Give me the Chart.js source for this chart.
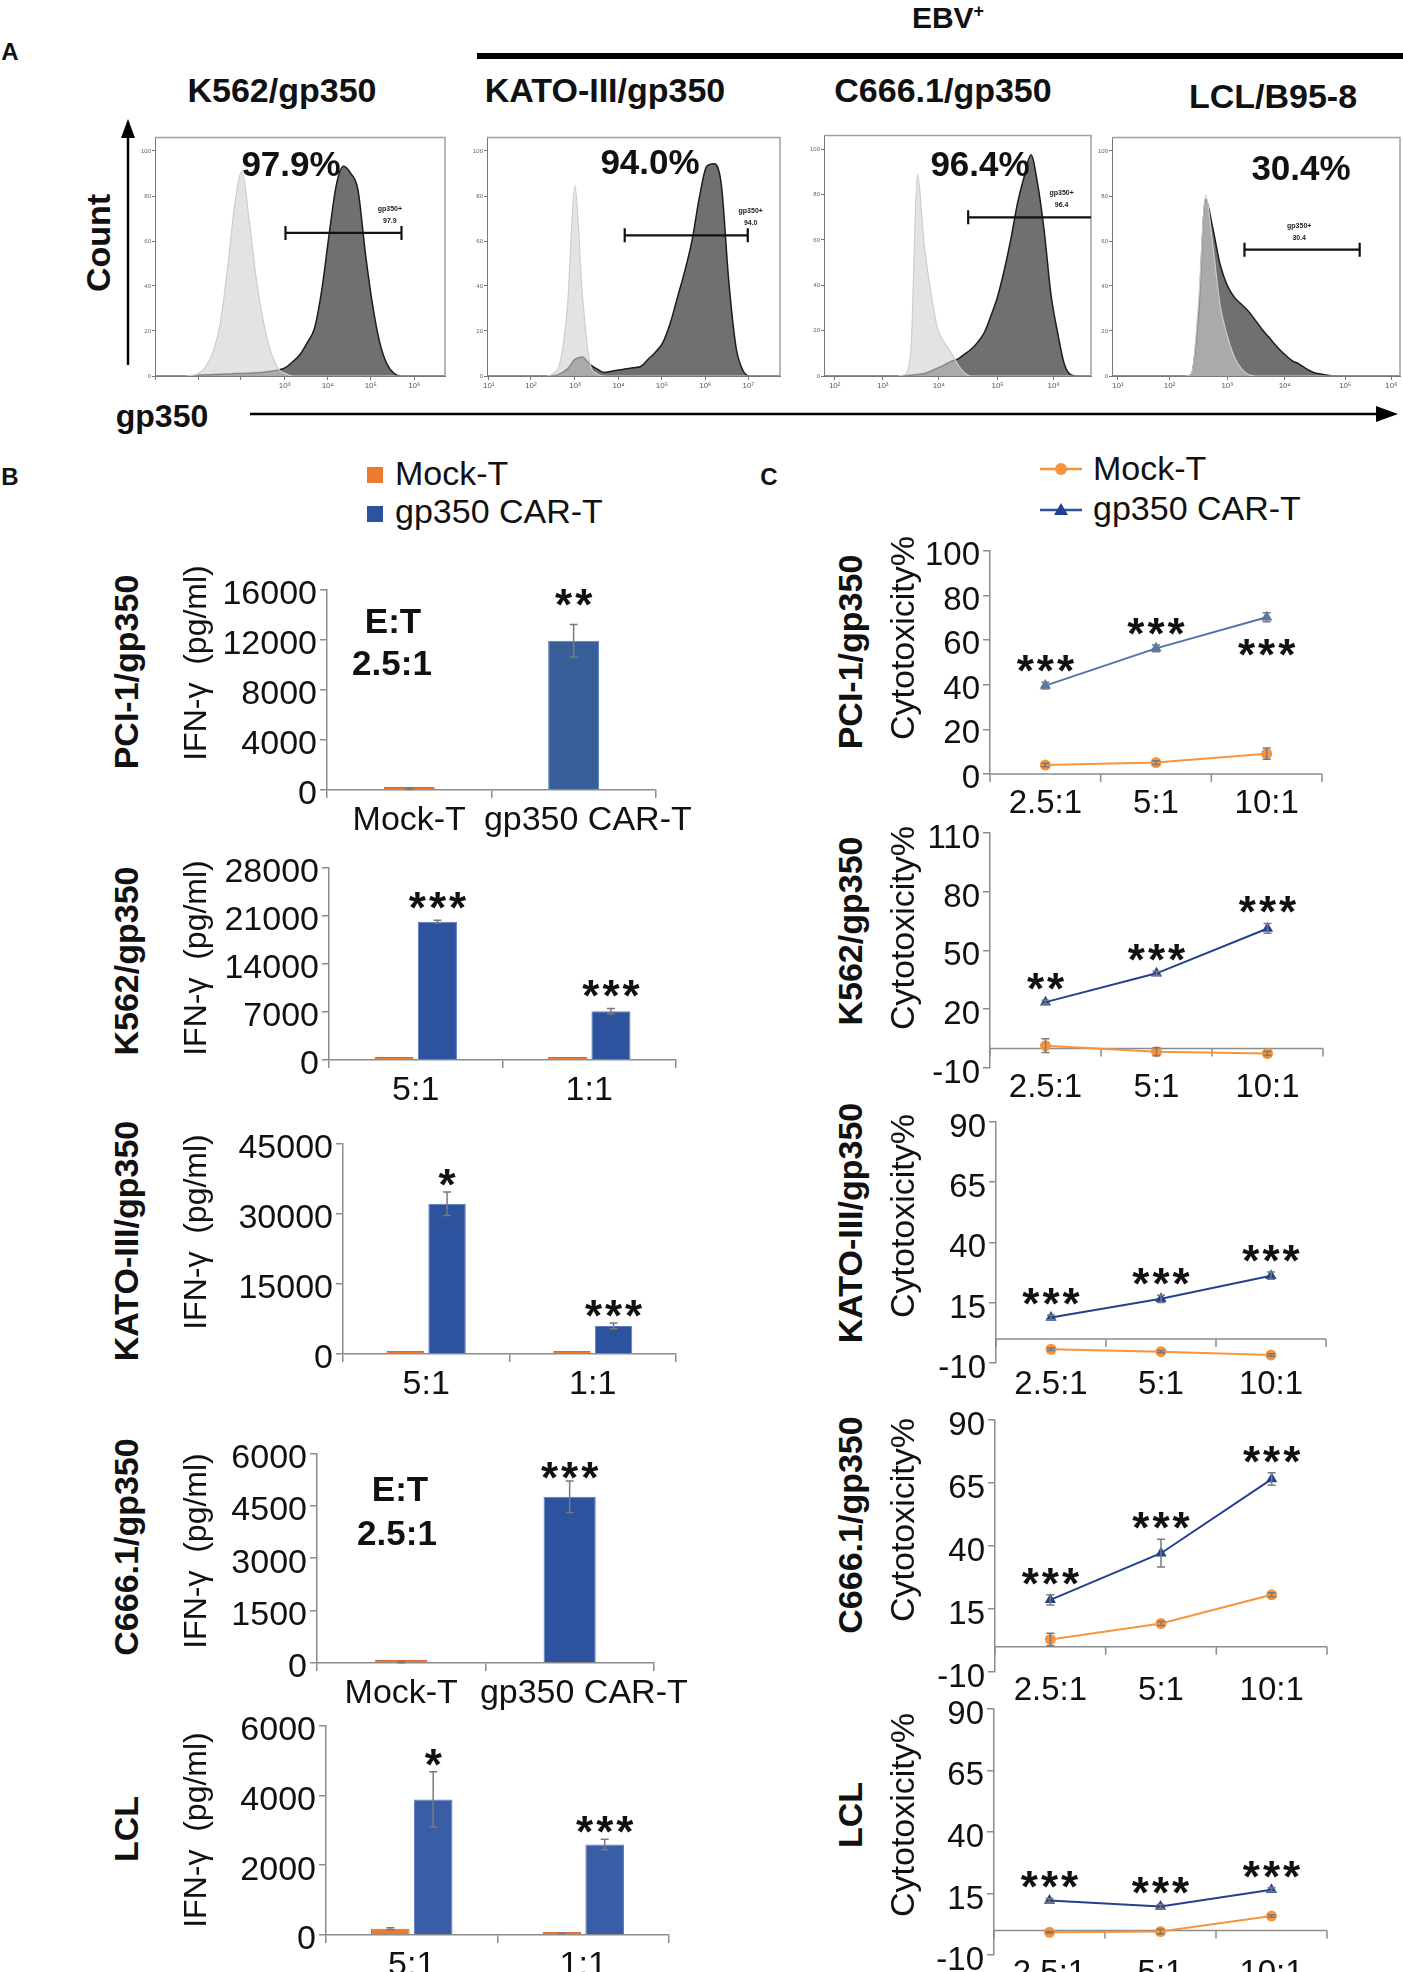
<!DOCTYPE html>
<html>
<head>
<meta charset="utf-8">
<script src="https://cdn.jsdelivr.net/npm/chart.js@4.4.1/dist/chart.umd.min.js"></script>
<style>
  body { margin: 0; background: #fff; width: 1403px; height: 1972px; position: relative; overflow: hidden;
         font-family: "Liberation Sans", Arial, sans-serif; color: #111; }
  canvas { position: absolute; }
  .lbl { position: absolute; white-space: nowrap; line-height: 1; }
  svg { position: absolute; left: 0; top: 0; }
</style>
</head>
<body>
<svg width="1403" height="1972">
  <!-- EBV bar -->
  <rect x="477" y="53" width="926" height="6" fill="#000"/>
  <!-- Count arrow -->
  <line x1="128" y1="365" x2="128" y2="134" stroke="#000" stroke-width="2.5"/>
  <polygon points="128,119 121,138 135,138" fill="#000"/>
  <!-- gp350 arrow -->
  <line x1="250" y1="414" x2="1380" y2="414" stroke="#000" stroke-width="2.5"/>
  <polygon points="1398,414 1376,406 1376,422" fill="#000"/>
  <!-- legend B -->
  <rect x="367" y="467" width="16" height="16" fill="#ee7a30"/>
  <rect x="367" y="506" width="16" height="16" fill="#2d529e"/>
  <!-- legend C -->
  <line x1="1040" y1="469" x2="1082" y2="469" stroke="#f7943c" stroke-width="2.5"/>
  <circle cx="1061" cy="469" r="6" fill="#f7943c"/>
  <line x1="1040" y1="510" x2="1082" y2="510" stroke="#2f4f9f" stroke-width="2.5"/>
  <polygon points="1061,503 1054,515 1068,515" fill="#22428f"/>
</svg>
<script>
// ---------- data ----------
// Panel A: flow histograms, x = 0..100 across each plot, y = share of plot height
const histX = [0,2.5,5,7.5,10,12.5,15,17.5,20,22.5,25,27.5,30,32.5,35,37.5,40,42.5,45,47.5,50,52.5,55,57.5,60,62.5,65,67.5,70,72.5,75,77.5,80,82.5,85,87.5,90,92.5,95,97.5,100];
const k562Ctrl = [0,0,0,0,0,0.003,0.01,0.04,0.1,0.22,0.45,0.72,0.86,0.65,0.4,0.22,0.1,0.03,0.01,0,0,0,0,0,0,0,0,0,0,0,0,0,0,0,0,0,0,0,0,0,0];
const k562Gp = [0,0,0,0,0,0,0.003,0.005,0.006,0.007,0.008,0.01,0.01,0.012,0.014,0.016,0.02,0.025,0.035,0.06,0.09,0.14,0.2,0.36,0.59,0.8,0.88,0.85,0.78,0.52,0.3,0.14,0.05,0.01,0,0,0,0,0,0,0];
const katoCtrl = [0,0,0,0,0,0,0,0,0,0.01,0.06,0.3,0.8,0.35,0.06,0.01,0,0,0,0,0,0,0,0,0,0,0,0,0,0,0,0,0,0,0,0,0,0,0,0,0];
const katoGp = [0,0,0,0,0,0,0,0,0,0,0.01,0.03,0.07,0.08,0.05,0.03,0.015,0.02,0.025,0.03,0.035,0.04,0.07,0.1,0.14,0.22,0.33,0.44,0.57,0.75,0.88,0.89,0.8,0.4,0.12,0.02,0,0,0,0,0];
const c666Ctrl = [0,0,0,0,0,0,0,0,0,0,0,0,0.005,0.1,0.84,0.55,0.35,0.2,0.14,0.1,0.05,0.015,0,0,0,0,0,0,0,0,0,0,0,0,0,0,0,0,0,0,0];
const c666Gp = [0,0,0,0,0,0,0,0,0,0,0,0,0,0.003,0.006,0.01,0.02,0.033,0.045,0.06,0.07,0.09,0.11,0.14,0.18,0.25,0.33,0.44,0.57,0.72,0.83,0.92,0.8,0.6,0.34,0.18,0.05,0.005,0,0,0];
const lclCtrl = [0,0,0,0,0,0,0,0,0,0,0,0.005,0.3,0.76,0.55,0.3,0.17,0.08,0.03,0.005,0,0,0,0,0,0,0,0,0,0,0,0,0,0,0,0,0,0,0,0,0];
const lclGp = [0,0,0,0,0,0,0,0,0,0,0,0.005,0.25,0.74,0.62,0.47,0.38,0.33,0.3,0.27,0.23,0.19,0.155,0.12,0.09,0.065,0.05,0.03,0.015,0.008,0.003,0,0,0,0,0,0,0,0,0,0];
const histPct = ["97.9%", "94.0%", "96.4%", "30.4%"];
const gateFrom = [45, 47, 54, 46];
const gateTo = [85, 89, 100, 86];
const gateY = [0.6, 0.59, 0.66, 0.53];
const gateVal = ["97.9", "94.0", "96.4", "30.4"];
const histYTicks = [0, 0.189, 0.378, 0.566, 0.755, 0.944];
const histYLabels = ["0", "20", "40", "60", "80", "100"];
const histXTicks = [
  [0.3, 15, 29.6, 44.7, 59.6, 74.4, 89.4],
  [0.6, 15, 30, 44.9, 59.7, 74.5, 89.2],
  [4, 22, 43, 65, 86],
  [2, 20, 40, 60, 81, 97]
];
const histXLabels = [
  ["", "", "", "10³", "10⁴", "10⁵", "10⁶"],
  ["10¹", "10²", "10³", "10⁴", "10⁵", "10⁶", "10⁷"],
  ["10²", "10³", "10⁴", "10⁵", "10⁶"],
  ["10¹", "10²", "10³", "10⁴", "10⁵", "10⁶"]
];

// Panel B: IFN-gamma (pg/ml)
const groupLabels = ["Mock-T", "gp350 CAR-T"];
const ratioB = ["5:1", "1:1"];
const pciIfn = [90, 11900];
const pciIfnErr = [60, 1300];
const pciIfnTicks = [0, 4000, 8000, 12000, 16000];
const pciIfnStars = ["", "**"];
const k562IfnMock = [80, 60];
const k562IfnCar = [20100, 7100];
const k562IfnCarErr = [200, 400];
const k562IfnTicks = [0, 7000, 14000, 21000, 28000];
const k562IfnStars = ["***", "***"];
const katoIfnMock = [100, 100];
const katoIfnCar = [32100, 6000];
const katoIfnCarErr = [2500, 600];
const katoIfnTicks = [0, 15000, 30000, 45000];
const katoIfnStars = ["*", "***"];
const c666Ifn = [20, 4760];
const c666IfnErr = [10, 450];
const c666IfnTicks = [0, 1500, 3000, 4500, 6000];
const c666IfnStars = ["", "***"];
const lclIfnMock = [180, 50];
const lclIfnMockErr = [30, 10];
const lclIfnCar = [3880, 2590];
const lclIfnCarErr = [790, 150];
const lclIfnTicks = [0, 2000, 4000, 6000];
const lclIfnStars = ["*", "***"];

// Panel C: cytotoxicity %
const ratioC = ["2.5:1", "5:1", "10:1"];
const pciCytMock = [4.0, 5.1, 9.1];
const pciCytMockErr = [0.8, 0.8, 2.5];
const pciCytCar = [39.6, 56.3, 70.2];
const pciCytCarErr = [1.5, 1.5, 2];
const pciCytTicks = [0, 20, 40, 60, 80, 100];
const pciCytStars = ["***", "***", "***"];
const k562CytMock = [1.4, -1.7, -2.6];
const k562CytMockErr = [3.5, 2, 1];
const k562CytCar = [23.6, 38.3, 61.2];
const k562CytCarErr = [1, 1, 2.5];
const k562CytTicks = [-10, 20, 50, 80, 110];
const k562CytStars = ["**", "***", "***"];
const katoCytMock = [-4.3, -5.3, -6.7];
const katoCytMockErr = [0.5, 0.5, 0.5];
const katoCytCar = [8.9, 16.6, 26.2];
const katoCytCarErr = [1, 1.5, 1.5];
const katoCytTicks = [-10, 15, 40, 65, 90];
const katoCytStars = ["***", "***", "***"];
const c666CytMock = [2.9, 9.2, 20.6];
const c666CytMockErr = [2.5, 0.8, 0.8];
const c666CytCar = [18.6, 37.1, 66.5];
const c666CytCarErr = [2, 5.5, 2.5];
const c666CytTicks = [-10, 15, 40, 65, 90];
const c666CytStars = ["***", "***", "***"];
const lclCytMock = [-0.8, -0.5, 5.8];
const lclCytMockErr = [0.3, 1, 0.5];
const lclCytCar = [12.1, 9.7, 16.5];
const lclCytCarErr = [0.8, 0.8, 0.8];
const lclCytTicks = [-10, 15, 40, 65, 90];
const lclCytStars = ["***", "***", "***"];

// ---------- helpers ----------
const FONT = '"Liberation Sans", Arial, sans-serif';
const AX = '#8c8c8c';
const ORANGE = '#ee7a30';
const MOCK_LINE = '#f7943c';

function label(text, x, y, size, opts = {}) {
  const d = document.createElement('div');
  d.className = 'lbl';
  d.innerHTML = text;
  d.style.left = x + 'px';
  d.style.top = y + 'px';
  d.style.fontSize = size + 'px';
  if (opts.bold) d.style.fontWeight = 'bold';
  d.style.transform = opts.left ? 'translate(0,-50%)' : 'translate(-50%,-50%)' + (opts.rot ? ' rotate(-90deg)' : '');
  document.body.appendChild(d);
}

function mk(L, yw, xh, pt, pr) {
  const c = document.createElement('canvas');
  const w = yw + (L.r - L.x) + pr, h = pt + (L.b - L.t) + xh;
  c.width = w; c.height = h;
  c.style.left = (L.x - yw) + 'px';
  c.style.top = (L.t - pt) + 'px';
  c.style.width = w + 'px';
  c.style.height = h + 'px';
  document.body.appendChild(c);
  return c;
}

function drawStars(ctx, txt, x, cy) {
  const fs = 44;
  ctx.save();
  ctx.fillStyle = '#111';
  ctx.font = 'bold ' + fs + 'px ' + FONT;
  ctx.letterSpacing = '3px';
  ctx.textAlign = 'center';
  ctx.textBaseline = 'alphabetic';
  ctx.fillText(txt, x + 1.5, cy + 0.54 * fs);
  ctx.restore();
}

function errPlugin(errRows) {
  return {
    id: 'errBars',
    afterDatasetsDraw(chart) {
      const ctx = chart.ctx, y = chart.scales.y;
      errRows.forEach((errs, di) => {
        if (!errs) return;
        chart.getDatasetMeta(di).data.forEach((el, i) => {
          const v = chart.data.datasets[di].data[i], e = errs[i];
          if (!e) return;
          const y1 = y.getPixelForValue(v + e), y2 = y.getPixelForValue(v - e);
          ctx.save();
          ctx.strokeStyle = '#7a7a7a';
          ctx.lineWidth = 1.5;
          ctx.beginPath();
          ctx.moveTo(el.x, y1); ctx.lineTo(el.x, y2);
          ctx.moveTo(el.x - 4, y1); ctx.lineTo(el.x + 4, y1);
          ctx.moveTo(el.x - 4, y2); ctx.lineTo(el.x + 4, y2);
          ctx.stroke();
          ctx.restore();
        });
      });
    }
  };
}

function starPlugin(starRows, errRows, gap, belowRows) {
  return {
    id: 'stars',
    afterDatasetsDraw(chart) {
      const y = chart.scales.y;
      starRows.forEach((row, di) => {
        if (!row) return;
        const meta = chart.getDatasetMeta(di);
        row.forEach((txt, i) => {
          if (!txt) return;
          const v = chart.data.datasets[di].data[i];
          const e = (errRows[di] || [])[i] || 0;
          const below = belowRows && belowRows[di] && belowRows[di][i];
          const cy = below ? y.getPixelForValue(v - e) + gap + 4 : y.getPixelForValue(v + e) - gap;
          drawStars(chart.ctx, txt, meta.data[i].x, cy);
        });
      });
    }
  };
}

const zeroAxis = {
  id: 'zeroAxis',
  beforeDatasetsDraw(chart) {
    const { ctx, chartArea: a, scales: { x, y } } = chart;
    const py = y.getPixelForValue(0);
    ctx.save();
    ctx.strokeStyle = AX;
    ctx.lineWidth = 1.5;
    ctx.beginPath();
    ctx.moveTo(a.left, py); ctx.lineTo(a.right, py);
    for (let i = 0; i <= chart.data.labels.length; i++) {
      const px = x.getPixelForValue(i - 0.5);
      ctx.moveTo(px, py); ctx.lineTo(px, py + 8);
    }
    ctx.stroke();
    ctx.restore();
  }
};

function yAxis(ticks, fs, yw, lo) {
  return {
    min: ticks[0], max: ticks[ticks.length - 1],
    afterBuildTicks: s => { s.ticks = ticks.map(v => ({ value: v })); },
    afterFit: s => { s.width = yw; },
    border: { color: AX, width: 1.5 },
    grid: { drawOnChartArea: false, color: AX, lineWidth: 1.5, tickLength: 7 },
    ticks: { color: '#111', font: { size: fs, family: FONT }, padding: 3, labelOffset: lo, callback: v => String(v) }
  };
}

const base = {
  responsive: false,
  maintainAspectRatio: false,
  animation: false,
  plugins: { legend: { display: false }, tooltip: { enabled: false } }
};

// ---------- panel A ----------
function histChart(L, ctrl, gp, k) {
  const cv = mk(L, 22, 20, 2, 2);
  new Chart(cv, {
    type: 'line',
    data: {
      datasets: [
        { data: histX.map((x, i) => ({ x, y: ctrl[i] })), fill: 'origin', backgroundColor: 'rgba(208,208,208,0.6)',
          borderColor: '#cdcdcd', borderWidth: 1.2, pointRadius: 0, cubicInterpolationMode: 'monotone' },
        { data: histX.map((x, i) => ({ x, y: gp[i] })), fill: 'origin', backgroundColor: '#707070',
          borderColor: '#1c1c1c', borderWidth: 1.5, pointRadius: 0, cubicInterpolationMode: 'monotone' }
      ]
    },
    options: {
      ...base,
      layout: { padding: { top: 2, right: 2, left: 0, bottom: 0 } },
      scales: {
        x: {
          type: 'linear', min: 0, max: 100,
          afterBuildTicks: s => { s.ticks = histXTicks[k].map(v => ({ value: v })); },
          afterFit: s => { s.height = 20; },
          border: { color: '#777', dash: [2, 2] },
          grid: { drawOnChartArea: false, color: '#777', tickLength: 4 },
          ticks: { color: '#555', font: { size: 8, family: FONT }, padding: 1, maxRotation: 0,
                   callback: (v, i) => histXLabels[k][i] }
        },
        y: {
          min: 0, max: 1,
          afterBuildTicks: s => { s.ticks = histYTicks.map(v => ({ value: v })); },
          afterFit: s => { s.width = 22; },
          border: { color: '#777', dash: [2, 2] },
          grid: { drawOnChartArea: false, color: '#777', tickLength: 3 },
          ticks: { color: '#666', font: { size: 6, family: FONT }, padding: 1, callback: (v, i) => histYLabels[i] }
        }
      }
    },
    plugins: [{
      id: 'histBox',
      afterDatasetsDraw(chart) {
        const { ctx, chartArea: a, scales: { x, y } } = chart;
        ctx.save();
        ctx.strokeStyle = '#a0a0a0';
        ctx.lineWidth = 1.5;
        ctx.beginPath();
        ctx.moveTo(a.left, a.top); ctx.lineTo(a.right, a.top); ctx.lineTo(a.right, a.bottom);
        ctx.stroke();
        const gy = y.getPixelForValue(gateY[k]);
        const g1 = x.getPixelForValue(gateFrom[k]), g2 = x.getPixelForValue(gateTo[k]);
        ctx.strokeStyle = '#111';
        ctx.lineWidth = 2.2;
        ctx.beginPath();
        ctx.moveTo(g1, gy); ctx.lineTo(g2, gy);
        ctx.moveTo(g1, gy - 7); ctx.lineTo(g1, gy + 7);
        if (gateTo[k] < 100) { ctx.moveTo(g2, gy - 7); ctx.lineTo(g2, gy + 7); }
        ctx.stroke();
        ctx.fillStyle = '#222';
        ctx.font = 'bold 7px ' + FONT;
        ctx.textAlign = 'center';
        const lx = x.getPixelForValue(L.gateText);
        ctx.fillText('gp350+', lx, gy - 22);
        ctx.fillText(gateVal[k], lx, gy - 10);
        ctx.restore();
      }
    }]
  });
}

histChart({ x: 155, r: 445, t: 135, b: 376, gateText: 81 }, k562Ctrl, k562Gp, 0);
histChart({ x: 487, r: 780, t: 135, b: 376, gateText: 90 }, katoCtrl, katoGp, 1);
histChart({ x: 824, r: 1091, t: 133, b: 376, gateText: 89 }, c666Ctrl, c666Gp, 2);
histChart({ x: 1112, r: 1400, t: 135, b: 376, gateText: 65 }, lclCtrl, lclGp, 3);

label('A', 10, 52, 24, { bold: true });
label('EBV<sup style="font-size:60%">+</sup>', 948, 17, 30, { bold: true });
label('K562/gp350', 282, 90, 34, { bold: true });
label('KATO-III/gp350', 605, 90, 34, { bold: true });
label('C666.1/gp350', 943, 90, 34, { bold: true });
label('LCL/B95-8', 1273, 96, 34, { bold: true });
[[291, 163], [650, 161], [980, 163], [1301, 167]].forEach((p, i) => label(histPct[i], p[0], p[1], 35, { bold: true }));
label('Count', 98, 243, 34, { bold: true, rot: true });
label('gp350', 162, 416, 32, { bold: true });

// ---------- panel B ----------
function barChart(L, labels, datasets, ticks, errRows, starRows) {
  const cv = mk(L, 115, 50, 20, 45);
  new Chart(cv, {
    type: 'bar',
    data: { labels, datasets },
    options: {
      ...base,
      layout: { padding: { top: 20, right: 45, left: 0, bottom: 0 } },
      scales: {
        x: {
          afterFit: s => { s.height = 50; },
          border: { color: AX, width: 1.5 },
          grid: { offset: true, drawOnChartArea: false, color: AX, lineWidth: 1.5, tickLength: 8 },
          ticks: { color: '#111', font: { size: 34, family: FONT }, padding: 2, maxRotation: 0, minRotation: 0, autoSkip: false,
                   // the second group label sits a little right of its bar in the original
                   callback: (v, i) => (labels === groupLabels && i === 1 ? '   ' : '') + labels[i] }
        },
        y: yAxis(ticks, 34, 115, 5)
      }
    },
    plugins: [errPlugin(errRows), starPlugin(starRows, errRows, L.gap)]
  });
}

function singleSet(values, blue) {
  return [{ data: values, backgroundColor: [ORANGE, blue], borderColor: ['#d9692a', '#5a7cc0'], borderWidth: 1,
            barPercentage: 0.31, categoryPercentage: 1, minBarLength: 3 }];
}
function pairSets(mock, car, blue) {
  return [
    { data: mock, backgroundColor: ORANGE, borderColor: '#d9692a', borderWidth: 1, barPercentage: 0.9, categoryPercentage: 0.5, minBarLength: 3 },
    { data: car, backgroundColor: blue, borderColor: '#5a7cc0', borderWidth: 1, barPercentage: 0.9, categoryPercentage: 0.5, minBarLength: 3 }
  ];
}

barChart({ x: 327, r: 660, t: 586, b: 790, gap: 28 }, groupLabels, singleSet(pciIfn, '#385f97'), pciIfnTicks, [pciIfnErr], [pciIfnStars]);
barChart({ x: 329, r: 676, t: 864, b: 1060, gap: 21 }, ratioB, pairSets(k562IfnMock, k562IfnCar, '#2d529e'), k562IfnTicks, [null, k562IfnCarErr], [null, k562IfnStars]);
barChart({ x: 343, r: 676, t: 1140, b: 1354, gap: 16 }, ratioB, pairSets(katoIfnMock, katoIfnCar, '#2d529e'), katoIfnTicks, [null, katoIfnCarErr], [null, katoIfnStars]);
barChart({ x: 317, r: 656, t: 1450, b: 1663, gap: 12 }, groupLabels, singleSet(c666Ifn, '#2d529e'), c666IfnTicks, [c666IfnErr], [c666IfnStars]);
barChart({ x: 326, r: 669, t: 1722, b: 1935, gap: 16 }, ratioB, pairSets(lclIfnMock, lclIfnCar, '#3a5ea6'), lclIfnTicks, [lclIfnMockErr, lclIfnCarErr], [null, lclIfnStars]);

label('B', 10, 477, 24, { bold: true });
label('Mock-T', 395, 473, 34, { left: true });
label('gp350 CAR-T', 395, 511, 34, { left: true });
label('E:T', 393, 620, 35, { bold: true });
label('2.5:1', 392, 662, 35, { bold: true });
label('E:T', 400, 1488, 35, { bold: true });
label('2.5:1', 397, 1532, 35, { bold: true });
const ifn = 'IFN-γ&nbsp;&nbsp;(pg/ml)';
[['PCI-1/gp350', 672, 663], ['K562/gp350', 961, 958], ['KATO-III/gp350', 1241, 1232], ['C666.1/gp350', 1547, 1551], ['LCL', 1829, 1830]]
  .forEach(r => { label(r[0], 126, r[1], 34, { bold: true, rot: true }); label(ifn, 195, r[2], 32, { rot: true }); });

// ---------- panel C ----------
function lineChart(L, mock, mockErr, car, carErr, ticks, stars, carColor, below) {
  const cv = mk(L, 75, 45, 20, 12);
  const errRows = [mockErr, carErr];
  new Chart(cv, {
    type: 'line',
    data: {
      labels: ratioC,
      datasets: [
        { data: mock, borderColor: MOCK_LINE, backgroundColor: MOCK_LINE, pointStyle: 'circle', pointRadius: 5.5,
          pointBorderWidth: 0, borderWidth: 2, tension: 0 },
        { data: car, borderColor: carColor, backgroundColor: carColor, pointStyle: 'triangle', pointRadius: 6.5,
          pointBorderWidth: 0, borderWidth: 2, tension: 0 }
      ]
    },
    options: {
      ...base,
      layout: { padding: { top: 20, right: 12, left: 0, bottom: 0 } },
      scales: {
        x: {
          offset: true,
          afterFit: s => { s.height = 45; },
          border: { display: false },
          grid: { display: false },
          ticks: { color: '#111', font: { size: 33, family: FONT }, padding: L.lp, maxRotation: 0, autoSkip: false }
        },
        y: yAxis(ticks, 33, 75, L.lo)
      }
    },
    plugins: [zeroAxis, errPlugin(errRows), starPlugin([null, stars], errRows, 20, below)]
  });
}

lineChart({ x: 990, r: 1322, t: 548, b: 774, lp: 2, lo: 5 }, pciCytMock, pciCytMockErr, pciCytCar, pciCytCarErr, pciCytTicks, pciCytStars, '#4f75ad', [null, [false, false, true]]);
lineChart({ x: 990, r: 1323, t: 830, b: 1068, lp: -8, lo: 6 }, k562CytMock, k562CytMockErr, k562CytCar, k562CytCarErr, k562CytTicks, k562CytStars, '#22428f');
lineChart({ x: 996, r: 1326, t: 1119, b: 1363, lp: -6, lo: 6 }, katoCytMock, katoCytMockErr, katoCytCar, katoCytCarErr, katoCytTicks, katoCytStars, '#22428f');
lineChart({ x: 995, r: 1327, t: 1417, b: 1672, lp: -9, lo: 6 }, c666CytMock, c666CytMockErr, c666CytCar, c666CytCarErr, c666CytTicks, c666CytStars, '#22428f');
lineChart({ x: 994, r: 1327, t: 1706, b: 1955, lp: -9, lo: 6 }, lclCytMock, lclCytMockErr, lclCytCar, lclCytCarErr, lclCytTicks, lclCytStars, '#22428f');

label('C', 769, 477, 24, { bold: true });
label('Mock-T', 1093, 468, 34, { left: true });
label('gp350 CAR-T', 1093, 508, 34, { left: true });
[['PCI-1/gp350', 652, 638], ['K562/gp350', 931, 928], ['KATO-III/gp350', 1223, 1216], ['C666.1/gp350', 1525, 1520], ['LCL', 1815, 1815]]
  .forEach(r => { label(r[0], 850, r[1], 34, { bold: true, rot: true }); label('Cytotoxicity%', 902, r[2], 34, { rot: true }); });
</script>
</body>
</html>
